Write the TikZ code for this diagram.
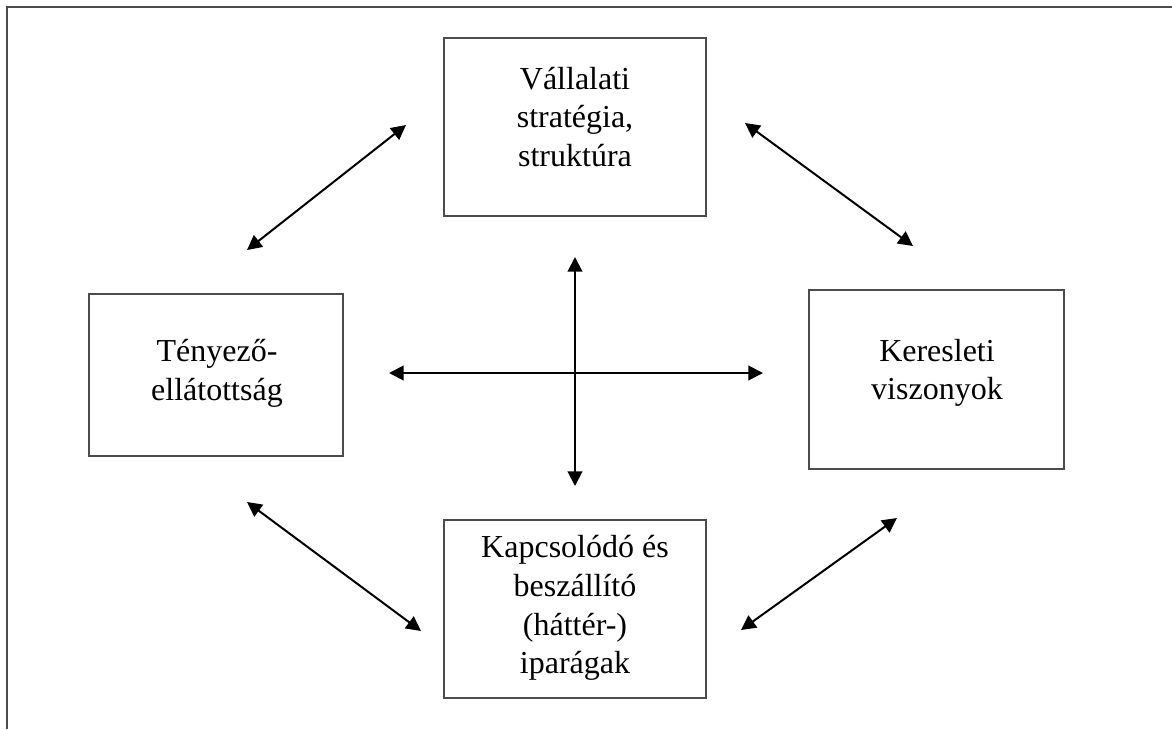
\documentclass[tikz,border=0pt]{standalone}
\usepackage{fontspec}
\setmainfont{Liberation Serif}
\usetikzlibrary{arrows.meta,fit}
\begin{document}
\begin{tikzpicture}[x=0.75pt,y=-0.75pt,
  frameline/.style={line width=1.5pt,draw=black!70},
  box/.style={draw=black!70,line width=1.1pt,inner sep=0pt,fill=white},
  txt/.style={align=center,inner sep=0pt,font=\fontsize{24pt}{29pt}\selectfont},
  dbl/.style={line width=1.5pt,{Triangle[length=11pt,width=11pt]}-{Triangle[length=11pt,width=11pt]}}]
\useasboundingbox (0,0) rectangle (1172,729);
% frame
\coordinate (f1) at (7,729);
\coordinate (f2) at (7,7);
\coordinate (f3) at (1172,7);
\draw[frameline] (f1) -- (f2) -- (f3);
% boxes
\node[box,fit={(444,38) (706,216)}] (top) {};
\node[box,fit={(89,294) (343,456)}] (left) {};
\node[box,fit={(809,290) (1064,469)}] (right) {};
\node[box,fit={(444,520) (706,698)}] (bottom) {};
% texts
\node[txt] (topT) at (575,117) {Vállalati\\stratégia,\\struktúra};
\node[txt] (leftT) at (217,373) {Tényező-\\ellátottság};
\node[txt] (rightT) at (937,373) {Keresleti\\viszonyok};
\node[txt] (bottomT) at (575,608) {Kapcsolódó és\\beszállító\\(háttér-)\\iparágak};
% arrow ends
\coordinate (a1) at (247,250);
\coordinate (a2) at (406,125);
\coordinate (b1) at (745,123);
\coordinate (b2) at (913,246);
\coordinate (c1) at (247,502);
\coordinate (c2) at (421,631);
\coordinate (d1) at (741,630);
\coordinate (d2) at (897,518);
\coordinate (v1) at (575,257);
\coordinate (v2) at (575,486);
\coordinate (h1) at (389,373);
\coordinate (h2) at (763,373);
\draw[dbl] (a1) -- (a2);
\draw[dbl] (b1) -- (b2);
\draw[dbl] (c1) -- (c2);
\draw[dbl] (d1) -- (d2);
\draw[dbl] (v1) -- (v2);
\draw[dbl] (h1) -- (h2);
\end{tikzpicture}
\end{document}
